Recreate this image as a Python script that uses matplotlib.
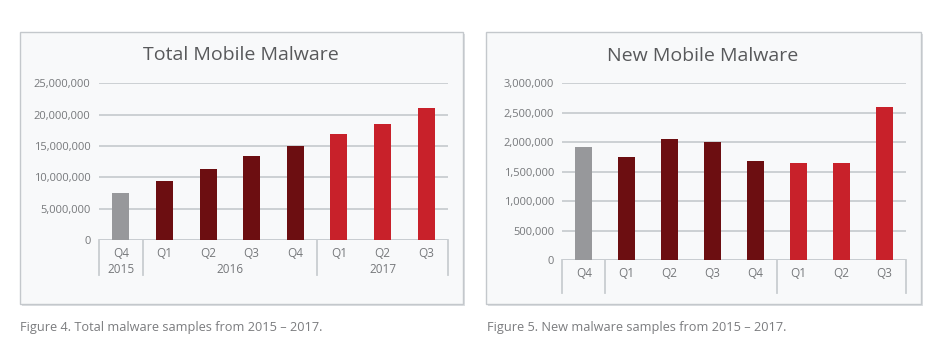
import matplotlib
import matplotlib.pyplot as plt
from matplotlib.patches import Rectangle
from matplotlib.ticker import FuncFormatter

matplotlib.use("Agg")

# Data
quarters = ["Q4", "Q1", "Q2", "Q3", "Q4", "Q1", "Q2", "Q3"]
year_labels = ["2015", "2016", "2017"]
year_spans = [(0, 0), (1, 4), (5, 7)]
total_malware = [7550000, 9350000, 11400000, 13400000, 15050000, 16850000, 18450000, 21050000]
new_malware = [1920000, 1750000, 2050000, 2000000, 1680000, 1640000, 1640000, 2600000]

# Styling
GRAY = "#97989b"
DARK_RED = "#6c0e11"
RED = "#c8212a"
bar_colors = [GRAY] + [DARK_RED] * 4 + [RED] * 3
TEXT = "#76787b"
GRID = "#c9cdd1"
PANEL_BG = "#f8f9fa"
PANEL_EDGE = "#c4c8cc"

plt.rcParams["font.family"] = ["Open Sans", "DejaVu Sans"]

W, H = 944, 356
fig = plt.figure(figsize=(W / 100, H / 100), dpi=100)
fig.patch.set_facecolor("white")


def px_box(x0, y0, x1, y1):
    """Convert pixel box (top-left origin) to figure fraction rect."""
    return [x0 / W, 1 - y1 / H, (x1 - x0) / W, (y1 - y0) / H]


def draw_panel(x0, y0, x1, y1):
    # soft shadow then the panel itself, kept behind the axes
    l, b, w, h = px_box(x0 + 1.5, y0 + 1.5, x1 + 1.5, y1 + 1.5)
    fig.patches.append(Rectangle((l, b), w, h, transform=fig.transFigure,
                                 facecolor="#dcdfe2", edgecolor="none", zorder=-2))
    l, b, w, h = px_box(x0, y0, x1, y1)
    fig.patches.append(Rectangle((l, b), w, h, transform=fig.transFigure,
                                 facecolor=PANEL_BG, edgecolor=PANEL_EDGE,
                                 linewidth=1.0, zorder=-1))


def style_axes(ax, values, ymax, step, sep_depth, show_years):
    x = list(range(len(values)))
    ax.bar(x, values, width=0.39, color=bar_colors, zorder=3)
    ax.set_xlim(-0.5, len(values) - 0.5)
    ax.set_ylim(0, ymax)
    ax.set_yticks(range(0, ymax + 1, step))
    ax.yaxis.set_major_formatter(FuncFormatter(lambda v, p: f"{int(v):,}"))
    ax.set_facecolor("none")
    for side in ["top", "right", "left", "bottom"]:
        ax.spines[side].set_visible(False)
    ax.grid(axis="y", color=GRID, linewidth=1.3, zorder=0)
    ax.axhline(0, color=GRID, linewidth=1.3, zorder=2)
    ax.tick_params(axis="y", length=0, pad=6, labelsize=8, labelcolor=TEXT)
    ax.set_xticks(x)
    ax.set_xticklabels(quarters)
    ax.tick_params(axis="x", length=0, pad=5, labelsize=8.5, labelcolor=TEXT)

    # category group separators below the axis
    trans = ax.get_xaxis_transform()
    for xs in [-0.5, 0.5, 4.5, len(values) - 0.5]:
        ax.plot([xs, xs], [0, -sep_depth], transform=trans, color=GRID,
                linewidth=1.3, clip_on=False)
    if show_years:
        for label, (a, b) in zip(year_labels, year_spans):
            ax.text((a + b) / 2, -0.19, label, transform=trans, ha="center",
                    va="center", fontsize=8.5, color=TEXT)


# Left panel: total mobile malware
draw_panel(20, 32, 463, 304)
ax1 = fig.add_axes(px_box(99, 83.3, 448, 240))
style_axes(ax1, total_malware, 25000000, 5000000, 0.223, True)
fig.text(241 / W, 1 - 55 / H, "Total Mobile Malware", ha="center", va="center",
         fontsize=14, color="#58595b")

# Right panel: new mobile malware
draw_panel(486, 32, 921, 304)
ax2 = fig.add_axes(px_box(562.3, 83.3, 906, 260))
style_axes(ax2, new_malware, 3000000, 500000, 0.187, False)
fig.text(703 / W, 1 - 56 / H, "New Mobile Malware", ha="center", va="center",
         fontsize=14, color="#58595b")

# Captions
fig.text(20 / W, 1 - 327 / H, "Figure 4. Total malware samples from 2015 \u2013 2017.",
         ha="left", va="center", fontsize=9.2, color="#7b7c7f")
fig.text(487 / W, 1 - 327 / H, "Figure 5. New malware samples from 2015 \u2013 2017.",
         ha="left", va="center", fontsize=9.2, color="#7b7c7f")

fig.savefig("out.png", dpi=100)
